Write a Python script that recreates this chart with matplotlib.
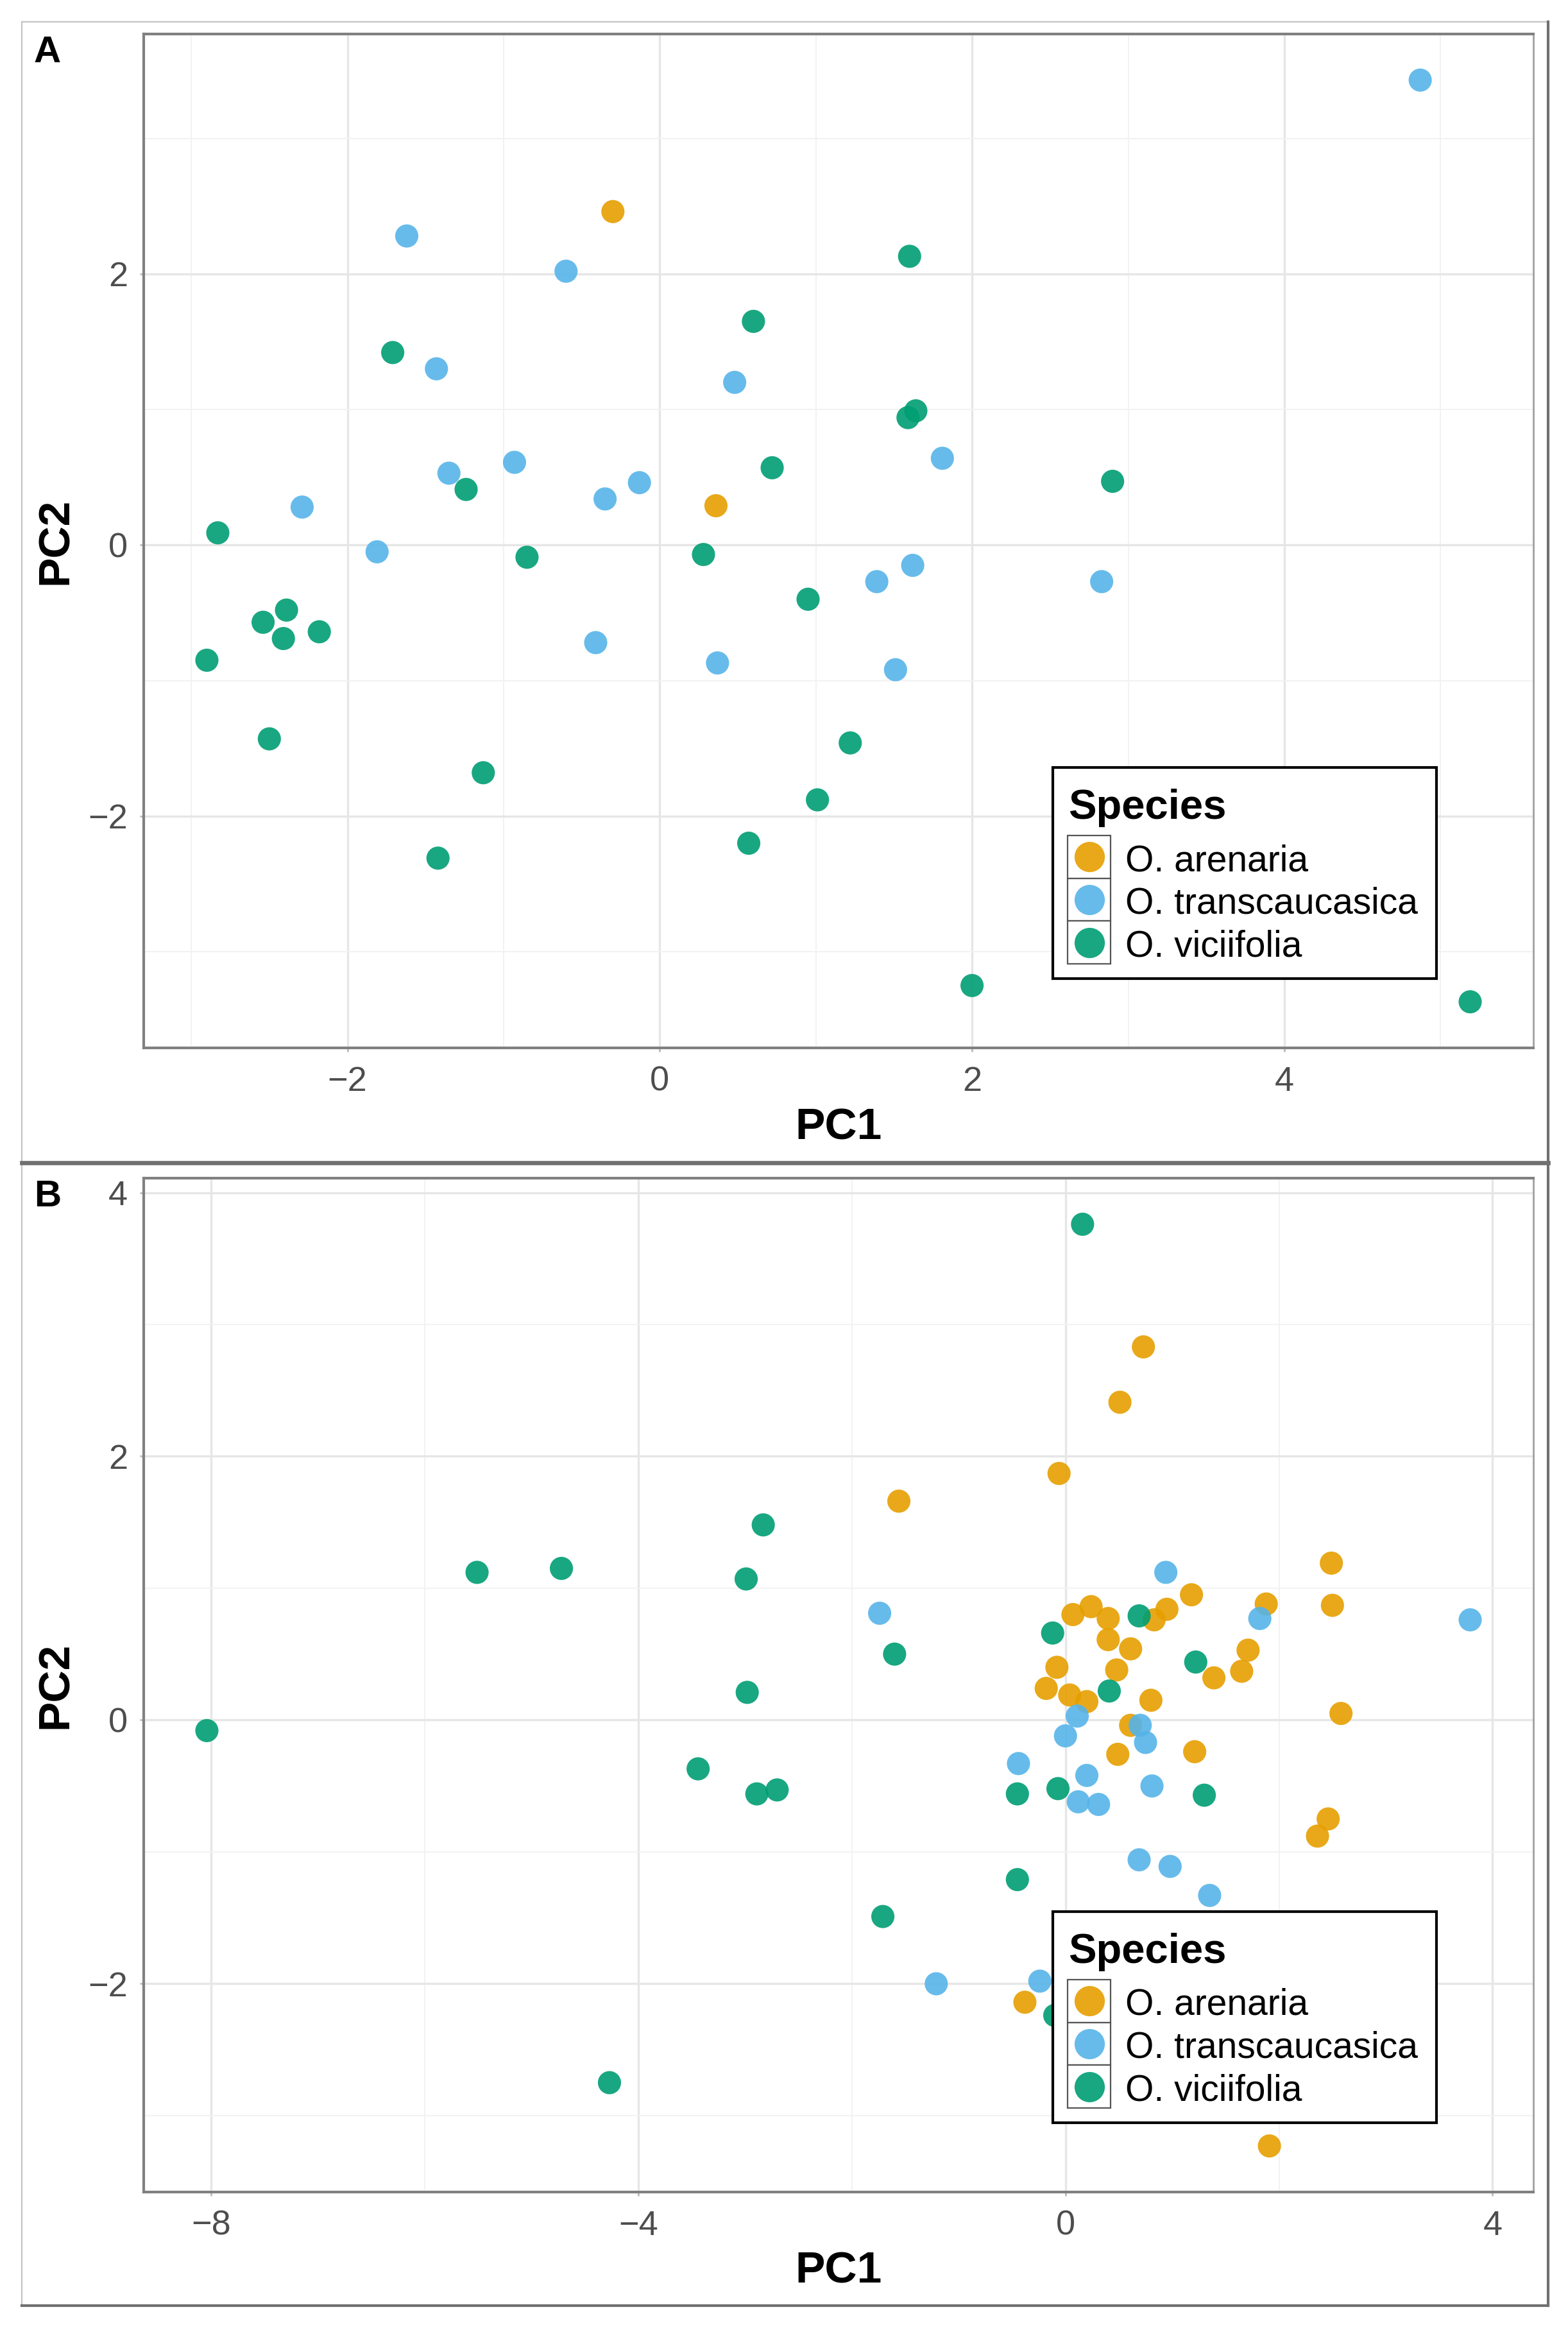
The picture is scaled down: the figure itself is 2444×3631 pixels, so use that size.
import matplotlib.pyplot as plt
from matplotlib.ticker import MultipleLocator
from matplotlib.patches import Rectangle

### input ##########

W, H = 2444, 3631
DPI = 200

species = ['O. arenaria', 'O. transcaucasica', 'O. viciifolia']
colors = ['#E69F00', '#56B4E9', '#009E73']

# panel A
a_aren_x = [-0.30, 0.36]
a_aren_y = [2.46, 0.29]
a_trans_x = [4.87, -1.62, -0.60, -1.43, 0.48, 1.81, -0.93, -1.35, -0.13, -0.35,
             -2.29, -1.81, 1.62, 1.39, 2.83, -0.41, 0.37, 1.51]
a_trans_y = [3.43, 2.28, 2.02, 1.30, 1.20, 0.64, 0.61, 0.53, 0.46, 0.34,
             0.28, -0.05, -0.15, -0.27, -0.27, -0.72, -0.87, -0.92]
a_vic_x = [1.60, 0.60, -1.71, 1.64, 1.59, 0.72, -1.24, 2.90, -2.83, -0.85, 0.28,
           0.95, -2.90, -2.54, -2.39, -2.41, -2.18, -2.50, 1.22, -1.13, 1.01,
           -1.42, 0.57, 2.00, 5.19]
a_vic_y = [2.13, 1.65, 1.42, 0.99, 0.94, 0.57, 0.41, 0.47, 0.09, -0.09, -0.07,
           -0.40, -0.85, -0.57, -0.48, -0.69, -0.64, -1.43, -1.46, -1.68, -1.88,
           -2.31, -2.20, -3.25, -3.37]

# panel B
b_aren_x = [0.73, 0.51, -0.06, -1.56, 2.49, 1.18, 2.50, 0.07, 0.24, 0.40, 0.83,
            0.95, 1.88, 0.40, 0.61, 1.71, 1.65, 1.39, -0.08, 0.48, -0.18, 0.04,
            0.20, 0.80, 2.58, 0.61, 0.49, 1.21, 2.46, 2.36, -0.38, 1.91]
b_aren_y = [2.83, 2.41, 1.87, 1.66, 1.19, 0.95, 0.87, 0.80, 0.86, 0.77, 0.76,
            0.84, 0.88, 0.61, 0.54, 0.53, 0.37, 0.32, 0.40, 0.38, 0.24, 0.19,
            0.14, 0.15, 0.05, -0.04, -0.26, -0.24, -0.75, -0.88, -2.14, -3.23]
b_trans_x = [0.94, -1.74, 1.82, 3.79, 0.11, 0.70, 0.00, 0.75, -0.44, 0.20, 0.12,
             0.31, 0.81, 0.69, 0.98, 1.35, -1.21, -0.24]
b_trans_y = [1.12, 0.81, 0.77, 0.76, 0.03, -0.04, -0.12, -0.17, -0.33, -0.42,
             -0.62, -0.64, -0.50, -1.06, -1.11, -1.33, -2.00, -1.98]
b_vic_x = [0.16, -2.83, -5.51, -4.72, -2.99, -2.98, -8.04, 0.69, -0.12, -1.60,
           1.22, 0.41, -3.44, -2.89, -2.70, -0.45, -0.07, 1.30, -0.45, -1.71,
           -4.27, -0.10]
b_vic_y = [3.76, 1.48, 1.12, 1.15, 1.07, 0.21, -0.08, 0.79, 0.66, 0.50, 0.44,
           0.22, -0.37, -0.56, -0.53, -0.56, -0.52, -0.57, -1.21, -1.49, -2.75,
           -2.24]

####################

plt.rcParams['font.family'] = ['Liberation Sans', 'DejaVu Sans']

fig = plt.figure(figsize=(W / DPI, H / DPI), dpi=DPI)


def box(x0, y0, x1, y1):
    # pixel box (top-left origin) -> figure fraction rect
    return [x0 / W, 1 - y1 / H, (x1 - x0) / W, (y1 - y0) / H]


### background layer in pixel coords: frames and titles
bg = fig.add_axes([0, 0, 1, 1], zorder=0)
bg.set_xlim(0, W)
bg.set_ylim(H, 0)
bg.axis('off')

bg.plot([34, 2413], [34, 34], color='#C4C4C4', lw=0.8)
bg.plot([34, 34], [34, 3593], color='#C4C4C4', lw=0.8)
bg.plot([2413, 2413], [34, 3593], color='#707070', lw=1.5)
bg.plot([34, 2413], [1812, 1812], color='#707070', lw=2.4)
bg.plot([34, 2413], [3593, 3593], color='#707070', lw=1.5)

### foreground layer for the legends
fg = fig.add_axes([0, 0, 1, 1], zorder=5)
fg.set_xlim(0, W)
fg.set_ylim(H, 0)
fg.axis('off')
fg.patch.set_alpha(0)


def draw_panel(top, letter, xs, ys, xstep):
    ax = fig.add_axes(box(224, top, 2390, top + 1580), zorder=1)
    for x, y, c in zip(xs, ys, colors):
        ax.scatter(x, y, s=169, color=c, alpha=0.9, edgecolors='none', zorder=3)

    allx = [v for x in xs for v in x]
    ally = [v for y in ys for v in y]
    dx = (max(allx) - min(allx)) * 0.05
    dy = (max(ally) - min(ally)) * 0.05
    ax.set_xlim(min(allx) - dx, max(allx) + dx)
    ax.set_ylim(min(ally) - dy, max(ally) + dy)

    ax.xaxis.set_major_locator(MultipleLocator(xstep))
    ax.xaxis.set_minor_locator(MultipleLocator(xstep / 2))
    ax.yaxis.set_major_locator(MultipleLocator(2))
    ax.yaxis.set_minor_locator(MultipleLocator(1))
    ax.grid(which='major', color='#E6E6E6', lw=1.2)
    ax.grid(which='minor', color='#F2F2F2', lw=0.7)
    ax.set_axisbelow(True)

    for side in ['left', 'bottom', 'top']:
        ax.spines[side].set_color('#808080')
        ax.spines[side].set_linewidth(1.5)
    ax.spines['right'].set_color('#A0A0A0')
    ax.spines['right'].set_linewidth(1.0)

    ax.tick_params(which='major', length=2, width=1, color='#BBBBBB',
                   labelcolor='#4D4D4D', labelsize=19.5)
    ax.tick_params(axis='x', which='major', pad=8)
    ax.tick_params(axis='y', which='major', pad=7)
    ax.tick_params(which='minor', length=0)

    bg.text(53, top + 2, letter, fontsize=21, fontweight='bold', va='top')
    bg.text(1307, top + 1722, 'PC1', fontsize=25, fontweight='bold',
            ha='center', va='baseline')
    bg.text(105, top + 790, 'PC2', fontsize=25, fontweight='bold', rotation=90,
            rotation_mode='anchor', ha='center', va='baseline')

    ### legend
    oy = top - 53
    fg.add_patch(Rectangle((1641, 1196 + oy), 598, 329, fc='white', ec='black', lw=1.5))
    fg.text(1665, 1276 + oy, 'Species', fontsize=23.5, fontweight='bold', va='baseline')
    for i in range(3):
        ky = 1302 + oy + i * 66.7
        fg.add_patch(Rectangle((1664, ky), 67, 66.7, fc='white', ec='#555555', lw=0.8))
        fg.plot(1697.5, ky + 33.3, 'o', ms=17, color=colors[i], alpha=0.9, mec='none')
        fg.text(1754, ky + 55, species[i], fontsize=20.5, va='baseline')
    return ax


draw_panel(53, 'A', [a_aren_x, a_trans_x, a_vic_x], [a_aren_y, a_trans_y, a_vic_y], 2)
draw_panel(1836, 'B', [b_aren_x, b_trans_x, b_vic_x], [b_aren_y, b_trans_y, b_vic_y], 4)

plt.savefig('out.png', dpi=DPI)
plt.close()
